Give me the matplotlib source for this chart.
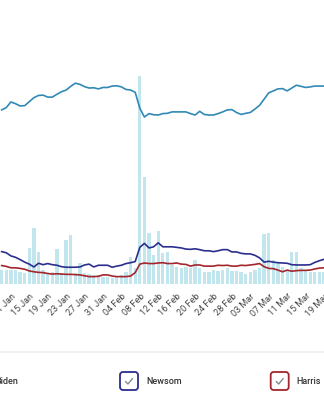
import numpy as np
import pandas as pd
import matplotlib
matplotlib.use("Agg")
import matplotlib.pyplot as plt
import matplotlib.dates as mdates
from matplotlib.patches import FancyBboxPatch

plt.rcParams["font.family"] = ["Roboto", "DejaVu Sans"]

W, H = 324, 394

# daily series, 9 Jan - 19 Mar 2024
days = pd.date_range("2024-01-09", "2024-03-19", freq="D")

biden = [
    61.3, 62.1, 64.1, 63.5, 62.7, 62.8, 64.2, 65.6, 66.4, 66.5,
    65.8, 65.8, 66.8, 67.7, 68.3, 69.6, 70.7, 70.3, 69.5, 69.0,
    69.1, 68.7, 69.2, 69.2, 69.7, 69.8, 69.4, 68.5, 68.3, 67.5,
    61.9, 58.8, 60.0, 59.6, 59.5, 60.0, 60.1, 60.6, 60.6, 60.6,
    60.6, 60.0, 59.5, 60.8, 59.7, 59.5, 59.5, 60.0, 60.6, 61.3,
    61.4, 60.4, 59.7, 60.1, 60.4, 61.6, 62.9, 65.1, 67.3, 68.0,
    68.7, 68.8, 68.0, 69.0, 70.0, 69.6, 69.2, 69.4, 69.7, 69.7,
    69.7,
]
newsom = [
    11.4, 11.0, 9.9, 9.4, 8.6, 7.7, 7.0, 6.0, 7.3, 6.8,
    7.2, 6.8, 6.6, 6.1, 5.9, 5.9, 5.9, 6.0, 6.7, 7.0,
    6.0, 6.6, 6.6, 6.6, 5.9, 6.3, 6.6, 7.2, 7.5, 7.9,
    12.9, 14.3, 12.7, 13.1, 14.5, 13.1, 13.1, 13.1, 12.9, 12.7,
    12.3, 12.2, 12.4, 12.1, 11.7, 11.7, 11.4, 11.7, 12.1, 12.1,
    11.3, 11.3, 10.8, 10.6, 10.6, 10.1, 9.2, 7.7, 8.0, 7.7,
    7.5, 7.4, 7.3, 6.8, 6.7, 6.7, 6.7, 6.8, 7.6, 8.2,
    8.7,
]
harris = [
    6.5, 6.2, 5.7, 5.7, 5.5, 5.2, 4.6, 4.3, 4.1, 4.0,
    3.7, 3.5, 3.6, 3.5, 3.4, 3.4, 3.3, 3.2, 2.9, 2.6,
    2.6, 2.7, 3.2, 3.2, 2.8, 2.6, 2.6, 2.6, 2.8, 4.0,
    7.0, 7.4, 7.2, 7.2, 7.4, 7.5, 7.2, 7.2, 7.4, 7.0,
    6.9, 6.3, 6.7, 6.7, 6.3, 6.3, 6.3, 6.6, 6.5, 6.6,
    6.3, 6.3, 6.6, 6.5, 6.7, 6.9, 7.2, 6.1, 5.5, 5.4,
    4.9, 4.3, 4.9, 4.5, 4.7, 4.8, 4.8, 4.9, 5.3, 5.6,
    5.7,
]
# mention volume behind the lines
volume = [
    4.9, 4.9, 4.9, 4.9, 4.2, 3.9, 12.6, 19.8, 11.4, 4.9,
    3.9, 4.2, 12.2, 3.9, 15.5, 17.3, 3.9, 7.5, 3.9, 3.5,
    3.2, 3.2, 2.5, 2.5, 2.1, 2.5, 3.2, 4.2, 9.6, 5.6,
    73.2, 37.6, 17.9, 10.2, 18.8, 10.9, 11.2, 6.7, 6.0, 5.6,
    6.0, 5.6, 8.5, 5.6, 4.2, 4.2, 4.9, 4.6, 4.9, 5.6,
    4.6, 4.6, 4.2, 3.5, 4.2, 4.9, 5.6, 17.6, 18.0, 8.5,
    7.7, 6.0, 4.9, 11.3, 11.3, 5.6, 4.9, 4.2, 4.2, 4.2,
    4.2,
]

names = ["Biden", "Newsom", "Harris"]
colors = ["#3189b5", "#2b2e8c", "#a3262d"]
bar_color = "#c2e6ee"

fig = plt.figure(figsize=(W / 100, H / 100), dpi=100)
ax = fig.add_axes([0, 1 - 284 / H, 1, 284 / H])

x = mdates.date2num(days)
ax.bar(x, volume, width=0.72, color=bar_color, linewidth=0, zorder=1)
ax.set_ylim(0, 100)

ax2 = ax.twinx()
for vals, c in zip([biden, newsom, harris], colors):
    ax2.plot(x, vals, color=c, lw=1.2, solid_joinstyle="round")
ax2.set_ylim(0, 100)

x_left = mdates.date2num(pd.Timestamp("2024-01-09")) - 0.36
ax.set_xlim(x_left, x_left + W / 4.72)

ax.set_xticks(mdates.date2num(pd.date_range("2024-01-11", "2024-03-19", freq="4D")))
ax.xaxis.set_major_formatter(mdates.DateFormatter("%d %b"))
ax.tick_params(axis="x", length=0, pad=5.5, labelsize=6.5, labelcolor="#444444")
plt.setp(ax.get_xticklabels(), rotation=45, ha="right", rotation_mode="anchor")
for a in (ax, ax2):
    a.tick_params(axis="y", left=False, right=False, labelleft=False, labelright=False)
    for s in a.spines.values():
        s.set_visible(False)

# overlay in pixel units for the separator and the legend checkboxes
ov = fig.add_axes([0, 0, 1, 1])
ov.set_xlim(0, W)
ov.set_ylim(H, 0)
ov.axis("off")
ov.plot([0, W], [352, 352], color="#f1f1f1", lw=1.6)

box = 18
first_box = -30.7
step = 150.7
for i, (name, c) in enumerate(zip(names, colors)):
    bx = first_box + i * step
    by = 372
    ov.add_patch(FancyBboxPatch((bx, by), box, box,
                                boxstyle="round,pad=0,rounding_size=3",
                                ec=c, fc="white", lw=1.3))
    ov.plot([bx + 5.5, bx + 8, bx + 12.5], [by + 9.5, by + 12, by + 6.5],
            color="#7f8e8b", lw=1.0, solid_capstyle="round")
    ov.text(bx + 26, by + box / 2, name, fontsize=6.5, color="#333333",
            fontweight="medium", va="center", ha="left")

fig.savefig("out.png", dpi=100)
